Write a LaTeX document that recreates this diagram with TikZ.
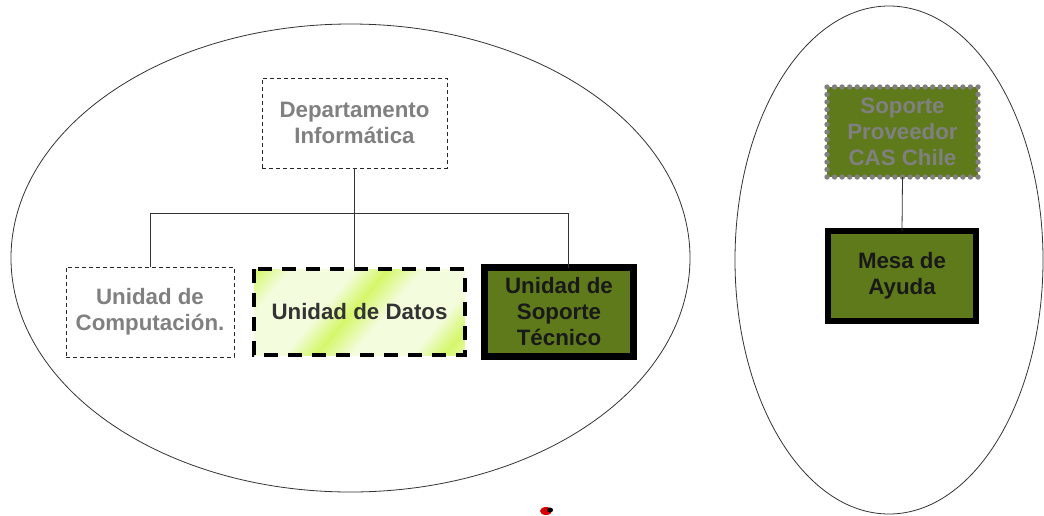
\documentclass[tikz,border=0pt]{standalone}
\usepackage{fontspec}
\setmainfont{Liberation Sans}
\usetikzlibrary{positioning,calc}
\definecolor{olivo}{HTML}{5F7A1B}
\definecolor{gristxt}{HTML}{808080}
\definecolor{pastel}{HTML}{F3FCDD}
\definecolor{lima}{HTML}{D5F76A}
\pgfdeclarehorizontalshading{rayas}{100bp}{color(0bp)=(pastel); color(8bp)=(pastel); color(15bp)=(lima); color(24bp)=(pastel); color(40bp)=(pastel); color(48bp)=(lima); color(57bp)=(pastel); color(72bp)=(pastel); color(80bp)=(lima); color(89bp)=(pastel); color(100bp)=(pastel)}
\begin{document}
\begin{tikzpicture}[x=1pt,y=-1pt,
    caja/.style={rectangle, inner sep=0pt, outer sep=0pt, align=center,
        font=\bfseries\fontsize{22.3}{26}\selectfont},
    punteada/.style={caja, draw=black!85, dash pattern=on 4pt off 3pt, line width=0.8pt, text=gristxt},
    gruesa/.style={caja, draw=black, fill=olivo, text=black!90}]
    \useasboundingbox (0,0) rectangle (1044,515);
    \draw[black!80, line width=0.8pt] (350.5,258) ellipse [x radius=339.5, y radius=234];
    \draw[black!80, line width=0.8pt] (889,260) ellipse [x radius=154, y radius=254];
    \node[punteada, minimum width=185, minimum height=90] (dep) at (354.5,123) {Departamento\\Informática};
    \node[punteada, minimum width=168, minimum height=90] (comp) at (150,312) {Unidad de\\Computación.};
    \node[caja, shading=rayas, shading angle=-40, minimum width=211, minimum height=86, text=black!80] (datos) at (359.5,312) {Unidad de Datos};
    \draw[line width=4pt, dash pattern=on 14pt off 10pt] (datos.north west) rectangle (datos.south east);
    \node[gruesa, line width=7pt, minimum width=149, minimum height=89] (tec) at (559,312) {Unidad de\\Soporte\\Técnico};
    \node[caja, fill=olivo, text=gristxt, minimum width=151, minimum height=90] (prov) at (902.5,132) {Soporte\\Proveedor\\CAS Chile};
    \foreach \i in {0,...,20} {
        \fill[gristxt] ($(prov.north west)!\i/20!(prov.north east)$) circle [radius=2.7pt];
        \fill[gristxt] ($(prov.south west)!\i/20!(prov.south east)$) circle [radius=2.7pt];
    }
    \foreach \i in {1,...,11} {
        \fill[gristxt] ($(prov.north west)!\i/12!(prov.south west)$) circle [radius=2.7pt];
        \fill[gristxt] ($(prov.north east)!\i/12!(prov.south east)$) circle [radius=2.7pt];
    }
    \node[gruesa, line width=6pt, minimum width=148, minimum height=90] (mesa) at (902,276) {Mesa de\\Ayuda};
    \coordinate (bus) at (0,213);
    \draw[black!80, line width=0.8pt] (dep.south) -- (dep.south |- datos.north);
    \draw[black!80, line width=0.8pt] (comp.north) |- (bus -| {568,0}) -- ([xshift=9pt]tec.north);
    \draw[black!80, line width=0.8pt] (prov.south) -- (mesa.north);
    \fill[red!85!black] (546,511) ellipse [x radius=6, y radius=4];
    \fill[black] (550,510) ellipse [x radius=3, y radius=2.5];
\end{tikzpicture}
\end{document}
